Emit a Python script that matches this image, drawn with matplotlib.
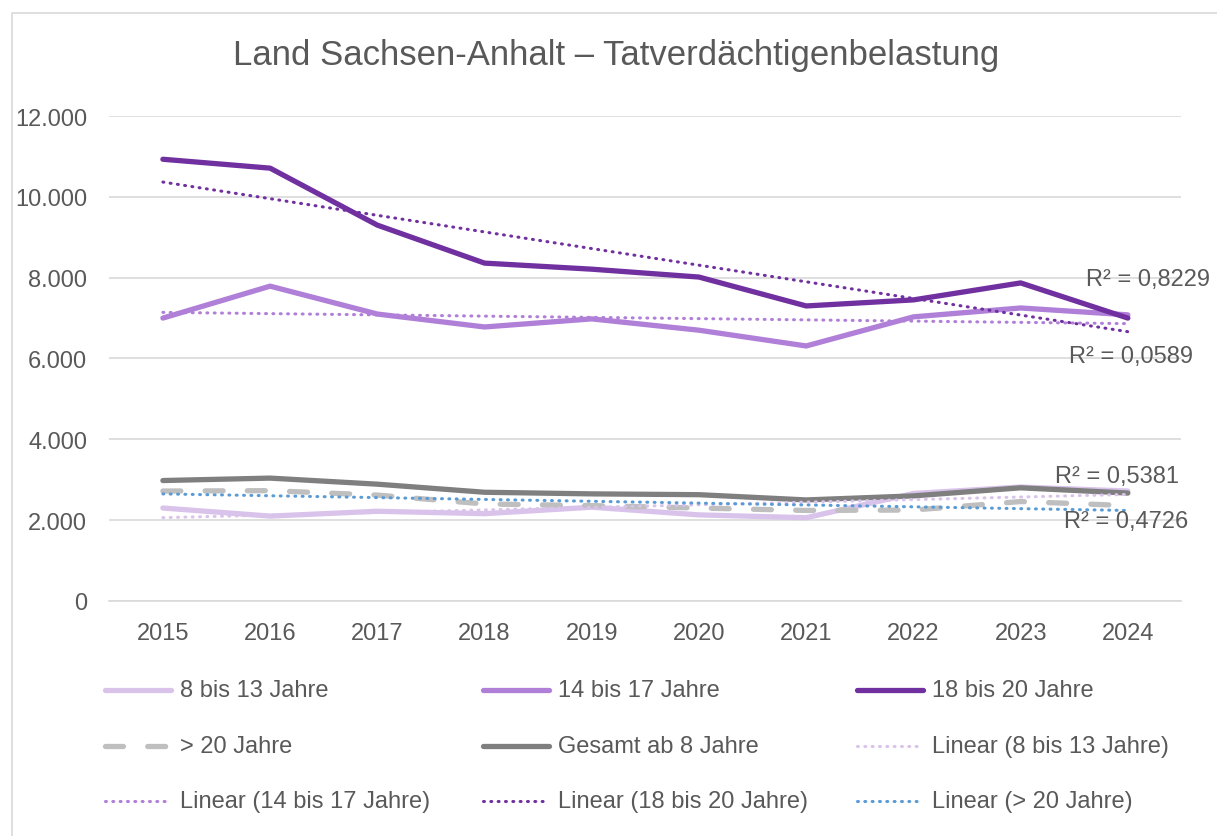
import numpy as np
import matplotlib.pyplot as plt
from matplotlib.lines import Line2D
from matplotlib.patches import Rectangle
from matplotlib.ticker import FuncFormatter

plt.rcParams['font.family'] = ['Liberation Sans', 'DejaVu Sans']

years = [2015, 2016, 2017, 2018, 2019, 2020, 2021, 2022, 2023, 2024]
age_8_13 = [2300, 2100, 2220, 2160, 2320, 2130, 2060, 2660, 2820, 2720]
age_14_17 = [7000, 7790, 7100, 6780, 6980, 6700, 6310, 7030, 7250, 7080]
age_18_20 = [10930, 10710, 9300, 8360, 8210, 8015, 7300, 7450, 7870, 7000]
age_over_20 = [2720, 2730, 2620, 2400, 2360, 2300, 2240, 2250, 2460, 2360]
total_8 = [2980, 3040, 2890, 2690, 2650, 2630, 2500, 2600, 2800, 2670]
r2_labels = ["R² = 0,8229", "R² = 0,0589", "R² = 0,5381", "R² = 0,4726"]

c_8_13 = '#D9C3EB'
c_14_17 = '#B07FD8'
c_18_20 = '#7030A0'
c_over = '#BFBFBF'
c_total = '#7F7F7F'
c_blue = '#5B9BD5'
txt = '#595959'

fig = plt.figure(figsize=(12.17, 8.37), dpi=100)
ax = fig.add_axes([0.0898, 0.2808, 0.881, 0.5794])

x = np.arange(len(years))

def trend(vals):
    k, d = np.polyfit(x, vals, 1)
    return k * x + d

lw = 3.8
dash_style = dict(dashes=(3.4, 4.6), dash_capstyle='round')
dot_style = dict(lw=2.2, dashes=(0.3, 2.1), dash_capstyle='round')

ax.plot(x, age_8_13, color=c_8_13, lw=lw, solid_capstyle='round', zorder=3)
ax.plot(x, age_14_17, color=c_14_17, lw=lw, solid_capstyle='round', zorder=3)
ax.plot(x, age_18_20, color=c_18_20, lw=lw, solid_capstyle='round', zorder=4)
ax.plot(x, age_over_20, color=c_over, lw=lw, zorder=3, **dash_style)
ax.plot(x, total_8, color=c_total, lw=lw, solid_capstyle='round', zorder=3)

ax.plot(x, trend(age_8_13), color=c_8_13, zorder=5, **dot_style)
ax.plot(x, trend(age_14_17), color=c_14_17, zorder=5, **dot_style)
ax.plot(x, trend(age_18_20), color=c_18_20, zorder=5, **dot_style)
ax.plot(x, trend(age_over_20), color=c_blue, zorder=5, **dot_style)

ax.set_xlim(-0.5, len(years) - 0.5)
ax.set_ylim(0, 12000)
ax.set_yticks(range(0, 12001, 2000))
ax.yaxis.set_major_formatter(FuncFormatter(lambda v, p: f"{int(v):,}".replace(',', '.')))
ax.set_xticks(x)
ax.set_xticklabels([str(y) for y in years])
ax.tick_params(length=0, labelsize=17, colors=txt)
ax.tick_params(axis='x', pad=15)
ax.tick_params(axis='y', pad=16)
ax.grid(axis='y', color='#D9D9D9', lw=1.2)
ax.set_axisbelow(True)
for s in ['top', 'right', 'left']:
    ax.spines[s].set_visible(False)
ax.spines['bottom'].set_color('#D9D9D9')
ax.spines['bottom'].set_linewidth(1.2)

# R² labels (right edge, centre in pixels)
r2_pos = [(1210, 280), (1193, 357), (1179, 477), (1188, 522)]
for lab, (px, py) in zip(r2_labels, r2_pos):
    fig.text(px / 1217, 1 - py / 837, lab, ha='right', va='center', fontsize=17, color=txt)

fig.text(616 / 1217, 1 - 56 / 837, "Land Sachsen-Anhalt – Tatverdächtigenbelastung",
         ha='center', va='center', fontsize=25, color=txt)

# legend, drawn by hand to match the spacing
legend_items = [
    ("8 bis 13 Jahre", dict(color=c_8_13, lw=lw)),
    ("14 bis 17 Jahre", dict(color=c_14_17, lw=lw)),
    ("18 bis 20 Jahre", dict(color=c_18_20, lw=lw)),
    ("> 20 Jahre", dict(color=c_over, lw=lw, **dash_style)),
    ("Gesamt ab 8 Jahre", dict(color=c_total, lw=lw)),
    ("Linear (8 bis 13 Jahre)", dict(color=c_8_13, **dot_style)),
    ("Linear (14 bis 17 Jahre)", dict(color=c_14_17, **dot_style)),
    ("Linear (18 bis 20 Jahre)", dict(color=c_18_20, **dot_style)),
    ("Linear (> 20 Jahre)", dict(color=c_blue, **dot_style)),
]
col_x = [103, 481, 855]
row_y = [691, 747, 802]
for i, (lab, style) in enumerate(legend_items):
    cx, ry = col_x[i % 3], row_y[i // 3]
    yy = 1 - ry / 837
    fig.add_artist(Line2D([(cx + 2) / 1217, (cx + 68) / 1217], [yy, yy], solid_capstyle='round', **style))
    fig.text((cx + 77) / 1217, yy, lab, ha='left', va='center', fontsize=17, color=txt)

fig.add_artist(Rectangle((12 / 1217, -0.01), 1.2, 1 - 14 / 837 + 0.01, transform=fig.transFigure,
                         fill=False, edgecolor='#D9D9D9', lw=1.2))

fig.savefig('out.png', dpi=100)
